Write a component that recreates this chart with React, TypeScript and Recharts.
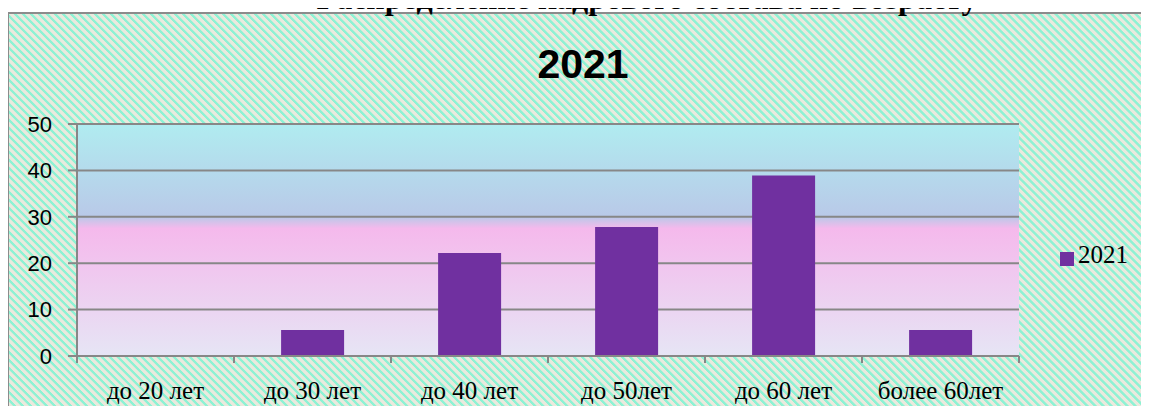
import React from "react";
import { BarChart, Bar, XAxis, YAxis, CartesianGrid, Legend } from "recharts";

const categories = ["до 20 лет", "до 30 лет", "до 40 лет", "до 50лет", "до 60 лет", "более 60лет"];
const values2021 = [0, 5.6, 22.2, 27.8, 38.9, 5.6];
const yTicks = [0, 10, 20, 30, 40, 50];
const seriesName = "2021";
const pageTitle = "Распределение кадрового состава по возрасту";

const data = categories.map((name, i) => ({ name, v2021: values2021[i] }));

const GRID = "#878787";

// category label plus tick marks on the band edges, like the original
function BandTick(props: any) {
  const { x, y, payload, index, visibleTicksCount } = props;
  const half = payload && payload.offset ? payload.offset : 78.5;
  const last = index === (visibleTicksCount ?? categories.length) - 1;
  return (
    <g>
      <line x1={x - half} x2={x - half} y1={y - 8} y2={y - 1} stroke={GRID} strokeWidth={2} />
      {last && <line x1={x + half} x2={x + half} y1={y - 8} y2={y - 1} stroke={GRID} strokeWidth={2} />}
      <text x={x} y={y + 35} textAnchor="middle" fill="#000" fontFamily="'Liberation Serif', serif" fontSize={25}>
        {payload.value}
      </text>
    </g>
  );
}

export default function App() {
  return (
    <div style={{ position: "relative", width: 1149, height: 414, margin: -8, overflow: "hidden", background: "#fff" }}>
      <div
        style={{
          position: "absolute",
          left: 7,
          top: 12,
          width: 1142,
          height: 402,
          boxSizing: "border-box",
          borderLeft: "2px solid #8c8c8c",
          borderTop: "2px solid #8c8c8c",
          background: "repeating-linear-gradient(45deg, #ebe9dd 0px, #ebe9dd 2.6px, #8ef2d4 3.2px, #8ef2d4 5px, #ebe9dd 5.66px)",
        }}
      />
      <div style={{ position: "absolute", left: 0, top: 0 }}>
        <BarChart
          width={1149}
          height={414}
          data={data}
          margin={{ top: 124, right: 130, bottom: 28, left: 17 }}
          barCategoryGap="30%"
        >
          <defs>
            <linearGradient id="plotBg" x1="0" y1="0" x2="0" y2="1">
              <stop offset="0%" stopColor="#b0ecf0" />
              <stop offset="40%" stopColor="#b9c9e8" />
              <stop offset="45%" stopColor="#f5b9ec" />
              <stop offset="100%" stopColor="#e6e5f5" />
            </linearGradient>
          </defs>
          <CartesianGrid vertical={false} stroke={GRID} strokeWidth={2} fill="url(#plotBg)" fillOpacity={1} />
          <XAxis
            dataKey="name"
            axisLine={{ stroke: GRID, strokeWidth: 2 }}
            tickLine={false}
            tick={<BandTick />}
            interval={0}
            height={30}
          />
          <YAxis
            domain={[0, 50]}
            ticks={yTicks}
            width={60}
            axisLine={{ stroke: GRID, strokeWidth: 2 }}
            tickLine={{ stroke: GRID, strokeWidth: 2 }}
            tickSize={9}
            tickMargin={16}
            tick={{ fill: "#000", fontFamily: "'Liberation Sans', sans-serif", fontSize: 22 }}
          />
          <Legend
            layout="vertical"
            verticalAlign="middle"
            align="center"
            iconType="square"
            iconSize={14}
            wrapperStyle={{ left: 1060, top: 241, width: 89 }}
            formatter={(value) => (
              <span style={{ color: "#000", fontFamily: "'Liberation Serif', serif", fontSize: 25 }}>{value}</span>
            )}
          />
          <Bar dataKey="v2021" name={seriesName} fill="#7030a0" isAnimationActive={false} />
        </BarChart>
      </div>
      <svg width={1149} height={414} style={{ position: "absolute", left: 0, top: 0, pointerEvents: "none" }}>
        <text x={647} y={9} textAnchor="middle" fontFamily="'Liberation Serif', serif" fontWeight="bold" fontSize={32} fill="#000">
          {pageTitle}
        </text>
        <text x={583} y={78} textAnchor="middle" fontFamily="'Liberation Sans', sans-serif" fontWeight="bold" fontSize={41} fill="#000">
          {seriesName}
        </text>
      </svg>
    </div>
  );
}
